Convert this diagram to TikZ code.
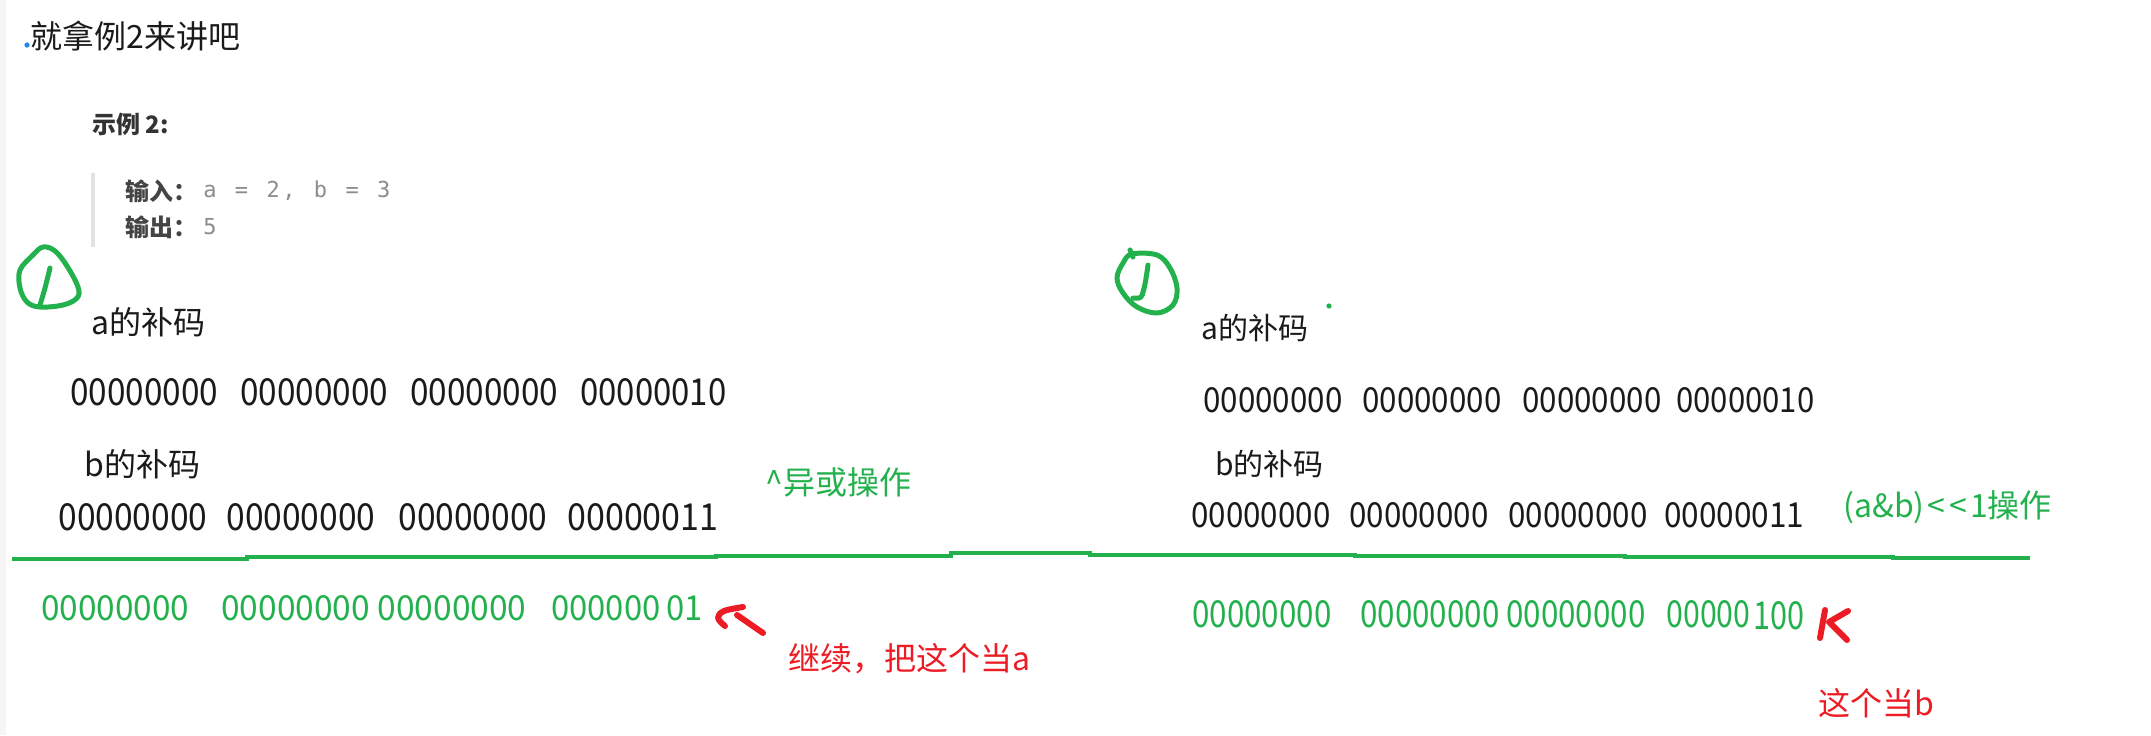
\documentclass[tikz,border=0pt]{standalone}
\usepackage{fontspec}
\setmainfont{Noto Sans CJK SC}
\newfontfamily\cjk{Noto Sans CJK SC}
\newfontfamily\monof{DejaVu Sans Mono}
\newdimen\pxu \pxu=0.5pt
\newcommand\dgt[3]{\resizebox{#1\pxu}{#2\pxu}{#3}}
\newcommand\mc[1]{\makebox[15.8\pxu][l]{#1}}
\definecolor{txtblack}{HTML}{1A1A1A}
\definecolor{hdgray}{HTML}{333333}
\definecolor{lblgray}{HTML}{444444}
\definecolor{valgray}{HTML}{8C8C8C}
\definecolor{bargray}{HTML}{E2E2E2}
\definecolor{pgreen}{HTML}{22B14C}
\definecolor{pred}{HTML}{ED1C24}
\definecolor{pblue}{HTML}{1E88E5}
\begin{document}
\begin{tikzpicture}[x=0.5pt,y=-0.5pt,
  txt/.style={inner sep=0,anchor=west,text=txtblack,font=\cjk\fontsize{16}{16}\selectfont},
  gtxt/.style={txt,text=pgreen},
  rtxt/.style={txt,text=pred},
  lbl/.style={txt,text=lblgray,font=\cjk\bfseries\fontsize{12}{12}\selectfont},
  val/.style={inner sep=0,anchor=west,text=valgray,font=\monof\fontsize{11}{12}\selectfont},
  digits/.style={inner sep=0,anchor=base west,text=txtblack,font=\cjk},
  gdigits/.style={digits,text=pgreen},
  pen/.style={draw=pgreen,line width=2.5pt,line cap=round,line join=round},
  redpen/.style={draw=pred,line width=3pt,line cap=round,line join=round},
  rule/.style={draw=pgreen,line width=2pt,line join=miter}]
\useasboundingbox (0,0) rectangle (2151,735);
\fill[white] (0,0) rectangle (2151,735);
\fill[black!4] (0,0) rectangle (6,735);

% header
\fill[pblue] (27,45) circle (2.6);
\node[txt] (title) at (30,36) {就拿例2来讲吧};
\node[txt,text=hdgray,font=\cjk\bfseries\fontsize{12}{12}\selectfont] (ex) at (92,124) {示例 2:};
\fill[bargray] (91,173) rectangle (95,247);
\node[lbl] (inp) at (125,191) {输入：};
\node[val] (inpv) at (203,191) {\mc{a}\mc{}\mc{=}\mc{}\mc{2}\mc{,}\mc{}\mc{b}\mc{}\mc{=}\mc{}\mc{3}};
\node[lbl] (outp) at (125,227) {输出：};
\node[val] (outpv) at (203,227) {5};

% circled 1 (left)
\draw[pen] plot[smooth cycle,tension=0.6] coordinates {(43,247) (55,251) (67,266) (78,287) (77,298) (63,305) (40,307) (27,302) (20,288) (20,270) (33,255)};
\draw[pen] plot[smooth,tension=0.5] coordinates {(50,268) (45,288) (40,305)};

% left block
\node[txt] (la) at (91,322) {a的补码};
\node[digits] (la1) at (70,405) {\dgt{148}{27}{00000000}};
\node[digits] (la2) at (240,405) {\dgt{148}{27}{00000000}};
\node[digits] (la3) at (410,405) {\dgt{148}{27}{00000000}};
\node[digits] (la4) at (580,405) {\dgt{146}{27}{00000010}};
\node[txt] (lb) at (84,464) {b的补码};
\node[digits] (lb1) at (58,530) {\dgt{149}{27}{00000000}};
\node[digits] (lb2) at (226,530) {\dgt{149}{27}{00000000}};
\node[digits] (lb3) at (398,530) {\dgt{149}{27}{00000000}};
\node[digits] (lb4) at (567,530) {\dgt{151}{27}{00000011}};
\node[gtxt] (xor) at (765,482) {\^{}异或操作};

% right block
\draw[pen] plot[smooth cycle,tension=0.6] coordinates {(1132,254) (1157,255) (1170,268) (1177,288) (1173,305) (1157,313) (1137,307) (1123,293) (1117,278) (1123,263)};
\draw[pen] (1130,250) -- (1133,257);
\draw[pen] plot[smooth,tension=0.5] coordinates {(1148,265) (1145,284) (1141,297) (1133,298)};
\fill[pgreen] (1329,306) circle (2.6);
\node[txt,font=\cjk\fontsize{15}{15}\selectfont] (ra) at (1201,328) {a的补码};
\node[digits] (ra1) at (1203,412) {\dgt{139}{25}{00000000}};
\node[digits] (ra2) at (1362,412) {\dgt{139}{25}{00000000}};
\node[digits] (ra3) at (1522,412) {\dgt{139}{25}{00000000}};
\node[digits] (ra4) at (1676,412) {\dgt{138}{25}{00000010}};
\node[txt,font=\cjk\fontsize{15}{15}\selectfont] (rb) at (1215,464) {b的补码};
\node[digits] (rb1) at (1191,527) {\dgt{139}{25}{00000000}};
\node[digits] (rb2) at (1349,527) {\dgt{139}{25}{00000000}};
\node[digits] (rb3) at (1508,527) {\dgt{139}{25}{00000000}};
\node[digits] (rb4) at (1664,527) {\dgt{140}{25}{00000011}};
\node[gtxt] (andop) at (1843,507) {(a\&b)\kern1.5pt<\kern2pt<\kern1.5pt1操作};

% rule
\draw[rule] (12,559) -- (247,559) -- (247,557) -- (716,557) -- (716,556) -- (951,556)
  -- (951,553) -- (1090,553) -- (1090,555) -- (1355,555) -- (1355,556) -- (1625,556)
  -- (1625,557) -- (1893,557) -- (1893,558) -- (2030,558);

% left result
\node[gdigits] (lr1) at (41,620) {\dgt{148}{25}{00000000}};
\node[gdigits] (lr2) at (221,620) {\dgt{305}{25}{00000000 00000000}};
\node[gdigits] (lr3) at (551,620) {\dgt{151}{25}{000000\,01}};
\draw[redpen] plot[smooth,tension=0.6] coordinates {(743,607) (724,611) (718,618) (725,626)};
\draw[redpen] (737,615) -- (763,633);
\node[rtxt] (conta) at (788,659) {继续，把这个当a};

% right result
\node[gdigits] (rr1) at (1192,627) {\dgt{139}{27}{00000000}};
\node[gdigits] (rr2) at (1360,627) {\dgt{285}{27}{00000000 00000000}};
\node[gdigits] (rr3) at (1666,627) {\dgt{84}{27}{00000}};
\node[gdigits] (rr4) at (1753,629) {\dgt{51}{28}{100}};
\draw[redpen] (1825,610) -- (1820,638);
\draw[redpen] (1848,611) -- (1829,622);
\draw[redpen] (1830,623) -- (1847,640);
\node[rtxt] (thisb) at (1818,703) {这个当b};
\end{tikzpicture}
\end{document}
